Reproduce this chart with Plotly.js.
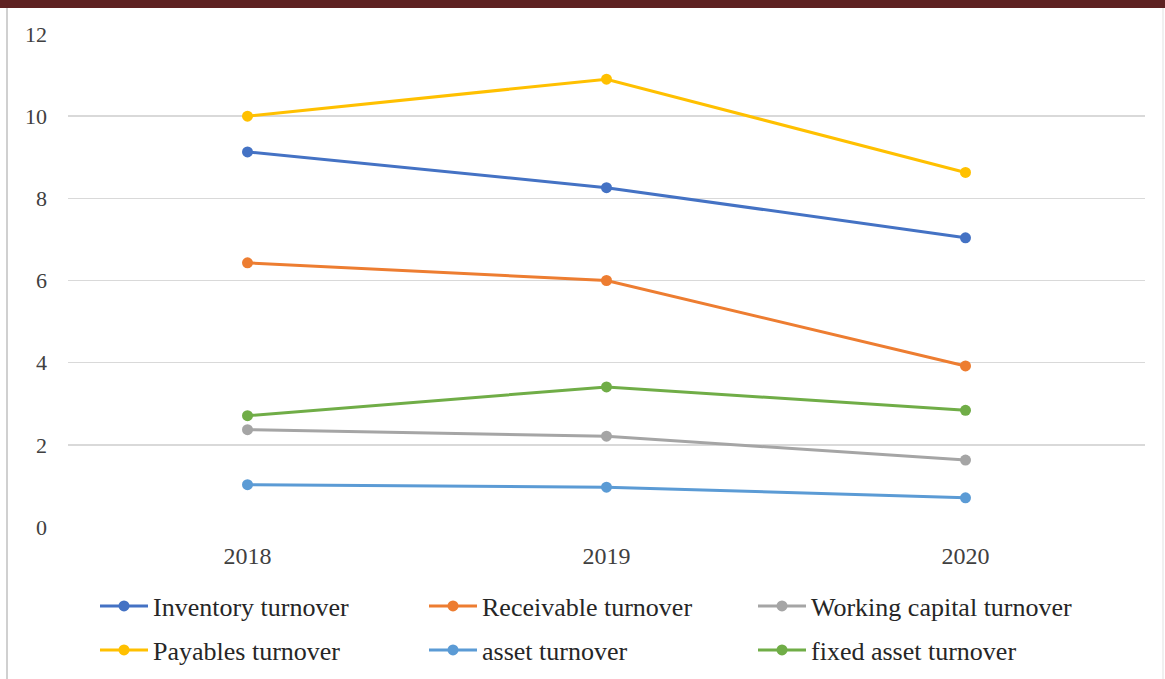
<!DOCTYPE html>
<html>
<head>
<meta charset="utf-8">
<script src="https://cdn.plot.ly/plotly-3.0.1.min.js"></script>
<style>
html,body{margin:0;padding:0;background:#fff;}
#chart{width:1165px;height:679px;}
</style>
</head>
<body>
<div id="chart"></div>
<script>
var years = ['2018', '2019', '2020'];
var inventoryTurnover = [9.13, 8.26, 7.04];
var receivableTurnover = [6.43, 6.00, 3.92];
var workingCapitalTurnover = [2.37, 2.21, 1.63];
var payablesTurnover = [10.0, 10.9, 8.63];
var assetTurnover = [1.03, 0.97, 0.71];
var fixedAssetTurnover = [2.71, 3.41, 2.84];
var yTicks = [0, 2, 4, 6, 8, 10, 12];

var seriesNames = ['Inventory turnover', 'Receivable turnover', 'Working capital turnover',
                   'Payables turnover', 'asset turnover', 'fixed asset turnover'];
var seriesValues = [inventoryTurnover, receivableTurnover, workingCapitalTurnover,
                    payablesTurnover, assetTurnover, fixedAssetTurnover];
var colors = ['#4472C4', '#ED7D31', '#A5A5A5', '#FFC000', '#5B9BD5', '#70AD47'];
var legendIds = ['legend', 'legend', 'legend', 'legend2', 'legend2', 'legend2'];

var traces = seriesNames.map(function (n, i) {
  return {
    type: 'scatter', mode: 'lines+markers', name: n,
    x: years, y: seriesValues[i],
    line: {color: colors[i], width: 3},
    marker: {color: colors[i], size: 11},
    legend: legendIds[i]
  };
});

var font = 'Liberation Serif, Times New Roman, serif';
var legendCommon = {
  orientation: 'h', xref: 'container', yref: 'container',
  xanchor: 'left', yanchor: 'middle',
  entrywidth: 266, entrywidthmode: 'pixels',
  itemwidth: 48,
  font: {family: font, size: 26, color: '#262626'},
  bgcolor: 'rgba(0,0,0,0)'
};
var legend1 = Object.assign({}, legendCommon, {x: 95/1165, y: 1 - 606/679});
var legend2 = Object.assign({}, legendCommon, {x: 95/1165, y: 1 - 650/679});

var layout = {
  width: 1165, height: 679,
  margin: {l: 68, r: 20, t: 34, b: 152, pad: 0},
  paper_bgcolor: '#ffffff', plot_bgcolor: '#ffffff',
  font: {family: font, color: '#404040'},
  showlegend: true,
  legend: legend1,
  legend2: legend2,
  xaxis: {
    type: 'category', range: [-0.5, 2.5], showgrid: false, zeroline: false, showline: false,
    ticks: '', tickfont: {family: font, size: 24, color: '#404040'},
    ticklabelstandoff: 12, fixedrange: true
  },
  yaxis: {
    range: [0, 12], tickvals: yTicks, ticktext: yTicks.map(String),
    showgrid: true, gridcolor: '#D9D9D9', gridwidth: 1.5,
    zeroline: false, showline: false, ticks: '',
    tickfont: {family: font, size: 22, color: '#404040'},
    ticklabelstandoff: 20, fixedrange: true
  },
  shapes: [
    {type: 'rect', xref: 'paper', yref: 'paper',
     x0: -68/1077, x1: 1097/1077, y0: (526.7 - 8)/492.7, y1: (526.7 + 2)/492.7,
     fillcolor: '#5E2222', line: {width: 0}, layer: 'above'},
    {type: 'line', xref: 'paper', yref: 'paper',
     x0: -61/1077, x1: -61/1077, y0: -160/492.7, y1: (526.7 - 8)/492.7,
     line: {color: '#D0D0D0', width: 2}},
    {type: 'line', xref: 'paper', yref: 'paper',
     x0: 1095/1077, x1: 1095/1077, y0: -160/492.7, y1: (526.7 - 8)/492.7,
     line: {color: '#EBEBEB', width: 1.5}}
  ]
};

Plotly.newPlot('chart', traces, layout, {displayModeBar: false, staticPlot: true});
</script>
</body>
</html>
